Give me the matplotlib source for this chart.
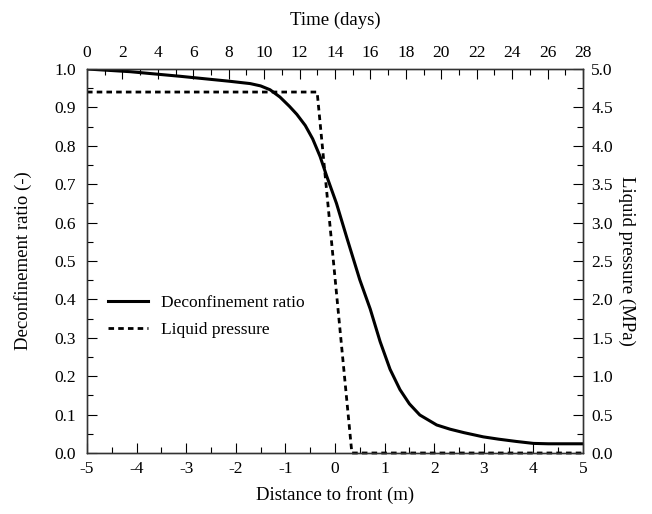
import matplotlib
matplotlib.use("Agg")
import matplotlib.pyplot as plt
from matplotlib.ticker import MultipleLocator

plt.rcParams['font.family'] = ['Liberation Serif', 'DejaVu Serif']

# deconfinement ratio (-) vs distance to front (m)
dist_ratio = [-5.0, -4.13, -3.12, -2.12, -1.71, -1.5, -1.31, -1.11, -0.92, -0.77, -0.6, -0.45,
              -0.3, -0.17, 0.03, 0.24, 0.5, 0.71, 0.91, 1.11, 1.31, 1.5, 1.71, 2.05, 2.32,
              2.6, 2.99, 3.3, 3.66, 4.0, 4.3, 5.0]
ratio = [1.0, 0.993, 0.981, 0.968, 0.962, 0.956, 0.946, 0.927, 0.903, 0.882, 0.853, 0.818,
         0.772, 0.722, 0.650, 0.560, 0.451, 0.375, 0.290, 0.218, 0.165, 0.128, 0.099, 0.073, 0.062,
         0.053, 0.042, 0.036, 0.030, 0.025, 0.024, 0.024]

# liquid pressure (MPa) vs distance to front (m)
dist_press = [-5.0, -0.36, 0.34, 5.0]
pressure = [4.7, 4.7, 0.0, 0.0]

def main() :
    fig = plt.figure(figsize=(6.52, 5.14), dpi=100)
    ax = fig.add_axes([87/652, 1 - 453/514, 496/652, 384/514])
    ax2 = ax.twinx()
    ax3 = ax.twiny()

    l1, = ax.plot(dist_ratio, ratio, '-', color='black', lw=2.2, label='Deconfinement ratio')
    l2, = ax2.plot(dist_press, pressure, color='black', lw=2.0, ls=(0, (2.0, 1.5)),
                   label='Liquid pressure', clip_on=False)

    ax.set_xlim(-5, 5)
    ax.set_ylim(0, 1.0)
    ax2.set_ylim(0, 5.0)
    ax3.set_xlim(0, 28)

    ax.xaxis.set_major_locator(MultipleLocator(1))
    ax.xaxis.set_minor_locator(MultipleLocator(0.5))
    ax.yaxis.set_major_locator(MultipleLocator(0.1))
    ax.yaxis.set_minor_locator(MultipleLocator(0.05))
    ax2.yaxis.set_major_locator(MultipleLocator(0.5))
    ax2.yaxis.set_minor_locator(MultipleLocator(0.25))
    ax3.xaxis.set_major_locator(MultipleLocator(2))
    ax3.xaxis.set_minor_locator(MultipleLocator(1))

    ax.xaxis.set_major_formatter(plt.FuncFormatter(lambda v, p: "%d" % round(v)))
    ax.yaxis.set_major_formatter(plt.FuncFormatter(lambda v, p: "%.1f" % v))
    ax2.yaxis.set_major_formatter(plt.FuncFormatter(lambda v, p: "%.1f" % v))

    for a in (ax, ax2, ax3) :
        a.tick_params(which='major', direction='in', length=7, width=0.8, labelsize=12.5, pad=6)
        a.tick_params(which='minor', direction='in', length=4, width=0.8)
        for s in a.spines.values() :
            s.set_linewidth(0.9)
            s.set_color('#333333')
    ax.tick_params(axis='y', which='major', pad=8)

    ax.set_xlabel("Distance to front (m)", fontsize=13.5, labelpad=6)
    ax.set_ylabel("Deconfinement ratio (-)", fontsize=13.5, labelpad=16)
    ax2.set_ylabel("Liquid pressure (MPa)", fontsize=13.5, rotation=270, labelpad=16)
    ax3.set_xlabel("Time (days)", fontsize=13.5, labelpad=14)

    ax.legend(handles=[l1, l2], loc='center left', bbox_to_anchor=(0.01, 0.355),
              frameon=False, fontsize=12.5, handlelength=2.3, labelspacing=0.6)

    fig.savefig("out.png", dpi=100)

if __name__ == "__main__" :
    main()
